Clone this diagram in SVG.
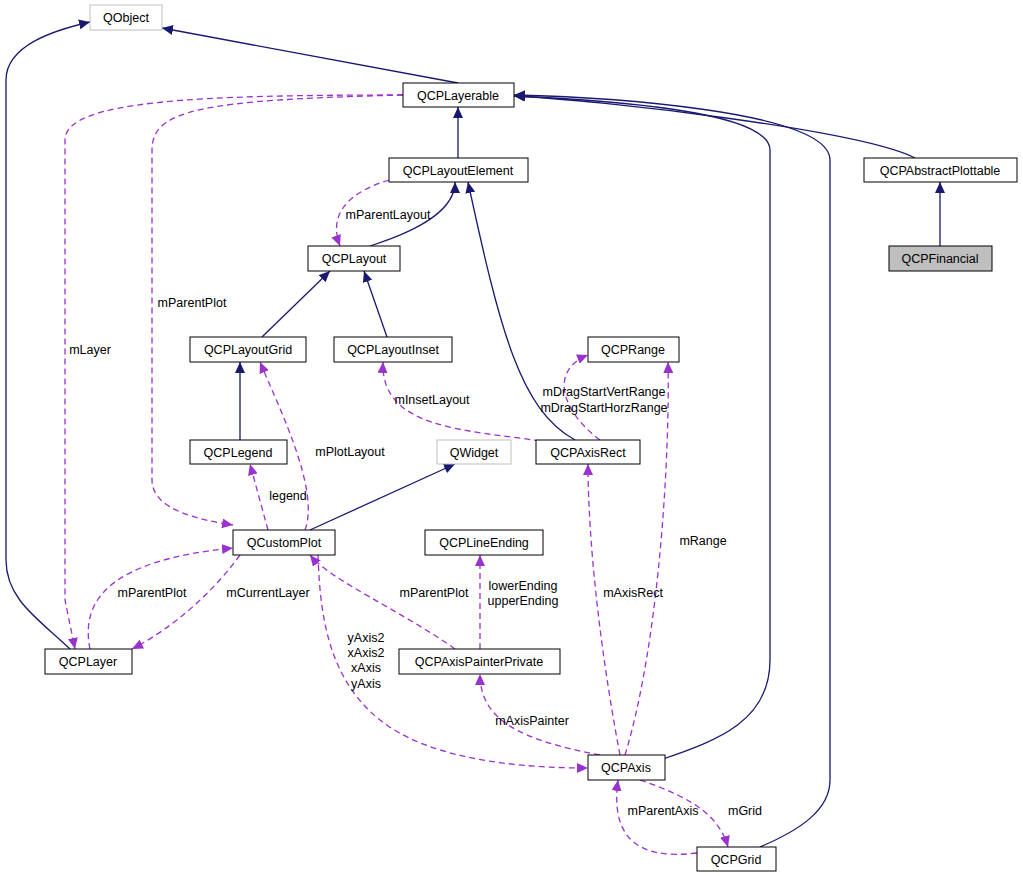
<svg xmlns="http://www.w3.org/2000/svg" width="1023" height="876" viewBox="0 0 1023 876">
<style>
.n rect{fill:#fff;stroke:#000;stroke-width:1}
.g rect{stroke:#bfbfbf}
text{font-family:"Liberation Sans",Arial,sans-serif;font-size:12.5px;fill:#000}
.n text{text-anchor:middle}
.s{fill:none;stroke:#191970;stroke-width:1.3}
.d{fill:none;stroke:#9a32cd;stroke-width:1.3;stroke-dasharray:6,4}
.l{text-anchor:middle}
</style>
<defs>
<marker id="a" markerWidth="12" markerHeight="10" refX="11" refY="5" orient="auto" markerUnits="userSpaceOnUse"><path d="M0,0L11,5L0,10z" fill="#191970"/></marker>
<marker id="b" markerWidth="12" markerHeight="10" refX="11" refY="5" orient="auto" markerUnits="userSpaceOnUse"><path d="M0,0L11,5L0,10z" fill="#9a32cd"/></marker>
</defs>
<rect width="1023" height="876" fill="#fff"/>
<g id="edges">
<path class="s" marker-end="url(#a)" d="M458,83L162,28"/>
<path class="s" marker-end="url(#a)" d="M70,649C40,620 6,600 6,560L6,80C6,45 55,30 90,22"/>
<path class="s" marker-end="url(#a)" d="M458,158L458,107"/>
<path class="s" marker-end="url(#a)" d="M915,158C860,130 600,100 514,96"/>
<path class="s" marker-end="url(#a)" d="M940,246L940,182"/>
<path class="s" marker-end="url(#a)" d="M370,246C420,230 455,210 455,182"/>
<path class="s" marker-end="url(#a)" d="M262,337L330,271"/>
<path class="s" marker-end="url(#a)" d="M387,337L364,271"/>
<path class="s" marker-end="url(#a)" d="M240,440L240,362"/>
<path class="s" marker-end="url(#a)" d="M575,440C520,410 500,330 468,182"/>
<path class="s" marker-end="url(#a)" d="M310,530L455,464"/>
<path class="s" marker-end="url(#a)" d="M660,760C720,740 770,720 770,660L770,150C770,110 600,100 514,96"/>
<path class="s" marker-end="url(#a)" d="M760,847C800,830 830,810 830,780L830,160C830,110 600,97 514,95"/>
<path class="d" marker-end="url(#b)" d="M403,95C200,95 65,100 65,140L65,600L75,649"/>
<path class="d" marker-end="url(#b)" d="M403,95C200,100 152,110 152,150L152,480C152,510 200,520 233,525"/>
<path class="d" marker-end="url(#b)" d="M389,180C340,195 330,220 340,246"/>
<path class="d" marker-end="url(#b)" d="M305,530C320,490 280,410 260,362"/>
<path class="d" marker-end="url(#b)" d="M268,530L250,464"/>
<path class="d" marker-end="url(#b)" d="M540,441C470,430 380,430 383,362"/>
<path class="d" marker-end="url(#b)" d="M600,440C560,410 550,370 588,355"/>
<path class="d" marker-end="url(#b)" d="M240,555C200,610 150,640 132,649"/>
<path class="d" marker-end="url(#b)" d="M90,649C80,600 110,560 233,548"/>
<path class="d" marker-end="url(#b)" d="M455,649C400,610 330,580 310,555"/>
<path class="d" marker-end="url(#b)" d="M480,649L480,555"/>
<path class="d" marker-end="url(#b)" d="M318,555C320,620 330,680 380,720C430,760 520,768 588,768"/>
<path class="d" marker-end="url(#b)" d="M600,755C520,740 480,720 480,674"/>
<path class="d" marker-end="url(#b)" d="M620,755C600,650 588,540 588,464"/>
<path class="d" marker-end="url(#b)" d="M625,755C660,640 670,450 668,362"/>
<path class="d" marker-end="url(#b)" d="M640,780C700,800 720,820 728,847"/>
<path class="d" marker-end="url(#b)" d="M697,853C640,860 610,840 618,780"/>
<text class="l" x="90" y="354">mLayer</text>
<text class="l" x="192" y="307">mParentPlot</text>
<text class="l" x="388" y="219">mParentLayout</text>
<text class="l" x="350" y="456">mPlotLayout</text>
<text class="l" x="288" y="500">legend</text>
<text class="l" x="432" y="404">mInsetLayout</text>
<text class="l" x="604" y="396">mDragStartVertRange</text>
<text class="l" x="604" y="412">mDragStartHorzRange</text>
<text class="l" x="268" y="597">mCurrentLayer</text>
<text class="l" x="152" y="597">mParentPlot</text>
<text class="l" x="434" y="597">mParentPlot</text>
<text class="l" x="523" y="590">lowerEnding</text>
<text class="l" x="523" y="605">upperEnding</text>
<text class="l" x="366" y="642">yAxis2</text>
<text class="l" x="366" y="657">xAxis2</text>
<text class="l" x="366" y="672">xAxis</text>
<text class="l" x="366" y="688">yAxis</text>
<text class="l" x="532" y="725">mAxisPainter</text>
<text class="l" x="633" y="597">mAxisRect</text>
<text class="l" x="703" y="545">mRange</text>
<text class="l" x="745" y="815">mGrid</text>
<text class="l" x="663" y="815">mParentAxis</text>
</g>
<g id="QObject" class="n g"><rect x="90" y="5" width="72" height="25"/><text x="126" y="22">QObject</text></g>
<g id="QCPLayerable" class="n"><rect x="403" y="83" width="111" height="24"/><text x="458" y="100">QCPLayerable</text></g>
<g id="QCPLayoutElement" class="n"><rect x="389" y="158" width="139" height="24"/><text x="458" y="175">QCPLayoutElement</text></g>
<g id="QCPAbstractPlottable" class="n"><rect x="864" y="158" width="153" height="24"/><text x="940" y="175">QCPAbstractPlottable</text></g>
<g id="QCPFinancial" class="n"><rect x="889" y="246" width="103" height="25" style="fill:#bfbfbf"/><text x="940" y="263">QCPFinancial</text></g>
<g id="QCPLayout" class="n"><rect x="308" y="246" width="92" height="25"/><text x="354" y="263">QCPLayout</text></g>
<g id="QCPLayoutGrid" class="n"><rect x="190" y="337" width="116" height="25"/><text x="248" y="354">QCPLayoutGrid</text></g>
<g id="QCPLayoutInset" class="n"><rect x="334" y="337" width="118" height="25"/><text x="393" y="354">QCPLayoutInset</text></g>
<g id="QCPRange" class="n"><rect x="588" y="337" width="91" height="25"/><text x="633" y="354">QCPRange</text></g>
<g id="QCPLegend" class="n"><rect x="190" y="440" width="97" height="24"/><text x="238" y="457">QCPLegend</text></g>
<g id="QWidget" class="n g"><rect x="437" y="440" width="74" height="24"/><text x="474" y="457">QWidget</text></g>
<g id="QCPAxisRect" class="n"><rect x="536" y="440" width="104" height="24"/><text x="588" y="457">QCPAxisRect</text></g>
<g id="QCustomPlot" class="n"><rect x="233" y="530" width="102" height="25"/><text x="284" y="547">QCustomPlot</text></g>
<g id="QCPLineEnding" class="n"><rect x="425" y="530" width="118" height="25"/><text x="484" y="547">QCPLineEnding</text></g>
<g id="QCPLayer" class="n"><rect x="45" y="649" width="87" height="25"/><text x="88" y="666">QCPLayer</text></g>
<g id="QCPAxisPainterPrivate" class="n"><rect x="399" y="649" width="161" height="25"/><text x="479" y="666">QCPAxisPainterPrivate</text></g>
<g id="QCPAxis" class="n"><rect x="588" y="755" width="77" height="25"/><text x="626" y="772">QCPAxis</text></g>
<g id="QCPGrid" class="n"><rect x="697" y="847" width="79" height="24"/><text x="736" y="864">QCPGrid</text></g>
</svg>
